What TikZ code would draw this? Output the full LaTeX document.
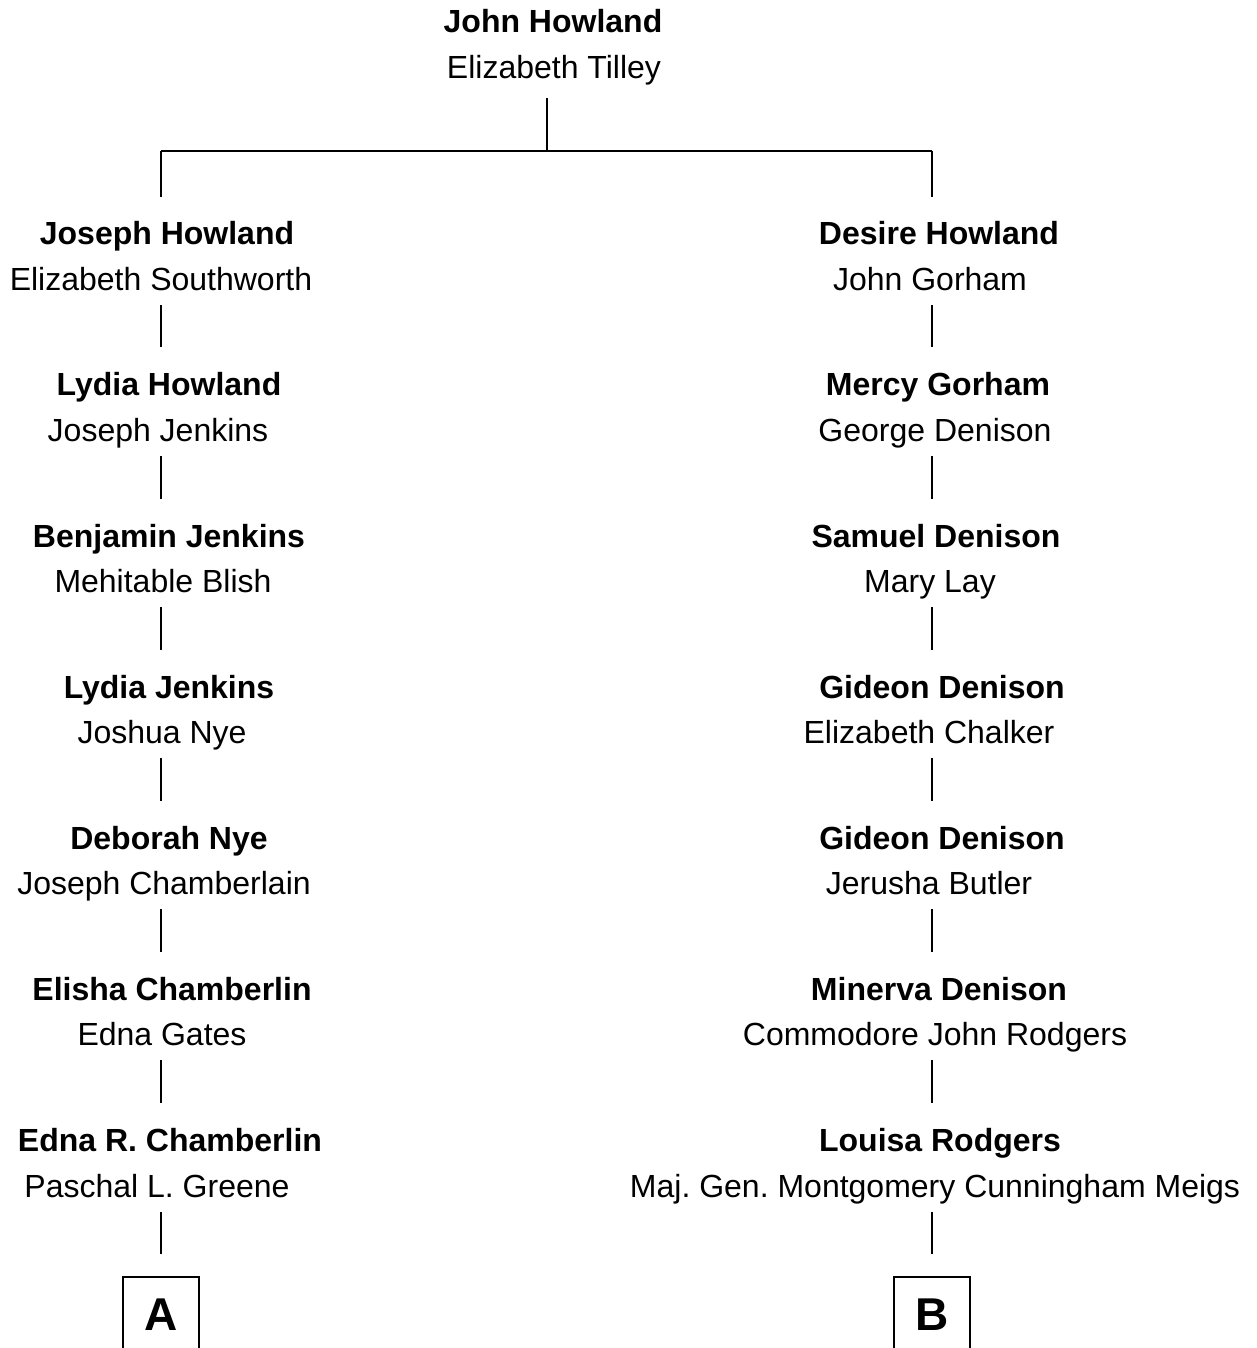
\documentclass[tikz,border=0pt]{standalone}
\usepackage{fontspec}
\setmainfont{Liberation Sans}
\frenchspacing
\begin{document}
\begin{tikzpicture}[x=1pt,y=-1pt,
  nm/.style={inner sep=0pt,yshift=-3pt,text height=23pt,text depth=7pt,font=\fontsize{32}{38}\selectfont\bfseries},
  sp/.style={inner sep=0pt,yshift=-3pt,text height=23pt,text depth=7pt,font=\fontsize{32}{38}\selectfont},
  link/.style={line width=1.2pt,shorten <=8pt,shorten >=25pt},
  boxlink/.style={line width=1.2pt,shorten <=8pt,shorten >=22pt},
  tline/.style={line width=1.2pt},
  letterbox/.style={draw,line width=1.5pt,minimum width=76pt,minimum height=76pt,inner sep=0pt,font=\fontsize{46}{50}\selectfont\bfseries}]
\useasboundingbox (0,0) rectangle (1256,1348);
\coordinate (lx) at (161,0);
\coordinate (rx) at (932,0);
\coordinate (tx) at (547,0);
% top
\node[nm] (t1) at (553,22) {John Howland};
\node[sp] (t2) at (554,68) {Elizabeth Tilley};
\coordinate (bar) at (547,151);
\coordinate (barL) at (161,151);
\coordinate (barR) at (932,151);
% left
\node[nm] (l1) at (167,233) {Joseph Howland};
\node[sp] (l1s) at (161,279) {Elizabeth Southworth};
\node[nm] (l2) at (169,384) {Lydia Howland};
\node[sp] (l2s) at (158,430) {Joseph Jenkins};
\node[nm] (l3) at (169,536) {Benjamin Jenkins};
\node[sp] (l3s) at (163,581) {Mehitable Blish};
\node[nm] (l4) at (169,687) {Lydia Jenkins};
\node[sp] (l4s) at (162,732) {Joshua Nye};
\node[nm] (l5) at (169,838) {Deborah Nye};
\node[sp] (l5s) at (164,883) {Joseph Chamberlain};
\node[nm] (l6) at (172,989) {Elisha Chamberlin};
\node[sp] (l6s) at (162,1034) {Edna Gates};
\node[nm] (l7) at (170,1140) {Edna R. Chamberlin};
\node[sp] (l7s) at (157,1186) {Paschal L. Greene};
\node[letterbox] (A) at (161,1315) {A};
% right
\node[nm] (r1) at (939,233) {Desire Howland};
\node[sp] (r1s) at (930,279) {John Gorham};
\node[nm] (r2) at (938,384) {Mercy Gorham};
\node[sp] (r2s) at (935,430) {George Denison};
\node[nm] (r3) at (936,536) {Samuel Denison};
\node[sp] (r3s) at (930,581) {Mary Lay};
\node[nm] (r4) at (942,687) {Gideon Denison};
\node[sp] (r4s) at (929,732) {Elizabeth Chalker};
\node[nm] (r5) at (942,838) {Gideon Denison};
\node[sp] (r5s) at (929,883) {Jerusha Butler};
\node[nm] (r6) at (939,989) {Minerva Denison};
\node[sp] (r6s) at (935,1034) {Commodore John Rodgers};
\node[nm] (r7) at (940,1140) {Louisa Rodgers};
\node[sp] (r7s) at (935,1186) {Maj. Gen. Montgomery Cunningham Meigs};
\node[letterbox] (B) at (932,1315) {B};
% top connectors
\draw[tline,shorten <=12pt] (t2.south -| tx) -- (bar);
\draw[tline] (barL) -- (barR);
\draw[tline,shorten >=24pt] (barL) -- (l1.north -| lx);
\draw[tline,shorten >=24pt] (barR) -- (r1.north -| rx);
% left connectors
\draw[link] (l1s.south -| lx) -- (l2.north -| lx);
\draw[link] (l2s.south -| lx) -- (l3.north -| lx);
\draw[link] (l3s.south -| lx) -- (l4.north -| lx);
\draw[link] (l4s.south -| lx) -- (l5.north -| lx);
\draw[link] (l5s.south -| lx) -- (l6.north -| lx);
\draw[link] (l6s.south -| lx) -- (l7.north -| lx);
\draw[boxlink] (l7s.south -| lx) -- (A.north -| lx);
% right connectors
\draw[link] (r1s.south -| rx) -- (r2.north -| rx);
\draw[link] (r2s.south -| rx) -- (r3.north -| rx);
\draw[link] (r3s.south -| rx) -- (r4.north -| rx);
\draw[link] (r4s.south -| rx) -- (r5.north -| rx);
\draw[link] (r5s.south -| rx) -- (r6.north -| rx);
\draw[link] (r6s.south -| rx) -- (r7.north -| rx);
\draw[boxlink] (r7s.south -| rx) -- (B.north -| rx);
\end{tikzpicture}
\end{document}
